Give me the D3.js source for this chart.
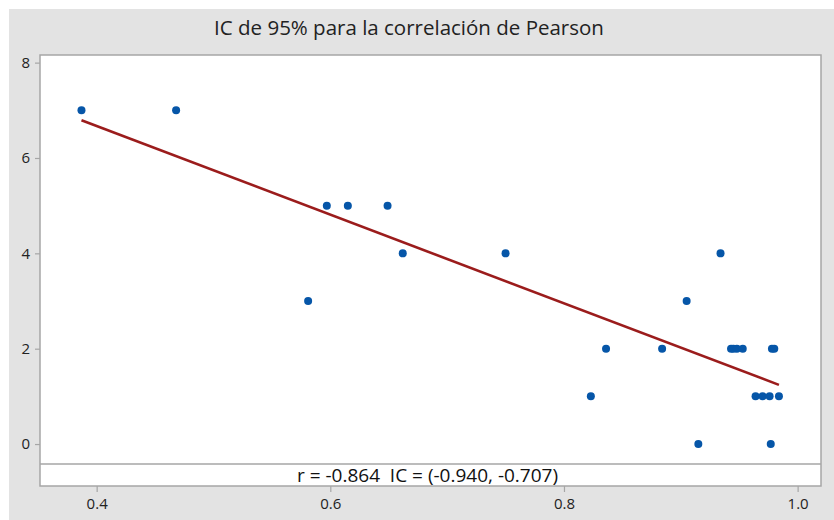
<!DOCTYPE html>
<html><head><meta charset="utf-8">
<script src="https://cdn.jsdelivr.net/npm/d3@7"></script>
<style>html,body{margin:0;padding:0;background:#fff;}svg{display:block;}</style>
</head><body>
<script>
const titleText = "IC de 95% para la correlación de Pearson";
const annotation = "r = -0.864  IC = (-0.940, -0.707)";
const xValues = [0.387,0.468,0.581,0.597,0.615,0.649,0.662,0.750,0.823,0.836,0.884,0.905,0.915,0.934,0.943,0.945,0.948,0.953,0.964,0.970,0.976,0.977,0.978,0.980,0.984];
const yValues = [7,7,3,5,5,5,4,4,1,2,2,3,0,4,2,2,2,2,1,1,1,0,2,2,1];
const xTicks = [0.4,0.6,0.8,1.0];
const yTicks = [0,2,4,6,8];

const W=834,H=520;
const svg=d3.select("body").append("svg").attr("width",W).attr("height",H);
svg.append("rect").attr("x",9).attr("y",9).attr("width",W-9).attr("height",H-9).attr("fill","#e3e3e3");

const L=40,R=821,T=55,B=486,bandTop=464;
const x=d3.scaleLinear().domain([0.3515,1.02]).range([L,R]);
const y=d3.scaleLinear().domain([-0.88,8.16]).range([B,T]);

svg.append("rect").attr("x",L).attr("y",T).attr("width",R-L).attr("height",B-T).attr("fill","#fff");

// regression line (least squares from the data)
const n=xValues.length, mx=d3.mean(xValues), my=d3.mean(yValues);
let sxy=0,sxx=0; for(let i=0;i<n;i++){sxy+=(xValues[i]-mx)*(yValues[i]-my);sxx+=(xValues[i]-mx)**2;}
const b=sxy/sxx, a=my-b*mx;
const x0=d3.min(xValues), x1=d3.max(xValues);
svg.append("line").attr("x1",x(x0)).attr("y1",y(a+b*x0)).attr("x2",x(x1)).attr("y2",y(a+b*x1))
  .attr("stroke","#9b1c1c").attr("stroke-width",2.6);

svg.selectAll("circle.pt").data(xValues.map((v,i)=>[v,yValues[i]])).enter().append("circle")
  .attr("cx",d=>x(d[0])).attr("cy",d=>y(d[1])).attr("r",4).attr("fill","#0656a8");

// annotation band
svg.append("line").attr("x1",L).attr("x2",R).attr("y1",bandTop).attr("y2",bandTop).attr("stroke","#a6a6a6").attr("stroke-width",1.5);
svg.append("text").attr("x",(L+R)/2-3).attr("y",482).attr("text-anchor","middle")
  .style("white-space","pre").attr("xml:space","preserve")
  .attr("font-family","Open Sans, sans-serif").attr("font-size",19).attr("fill","#111").text(annotation);

// frame
svg.append("rect").attr("x",L).attr("y",T).attr("width",R-L).attr("height",B-T).attr("fill","none").attr("stroke","#a6a6a6").attr("stroke-width",1.5);

// axes
const yAxis=d3.axisLeft(y).tickValues(yTicks).tickSize(5).tickPadding(5).tickFormat(d3.format("d"));
const gy=svg.append("g").attr("transform",`translate(${L},0)`).call(yAxis);
const xAxis=d3.axisBottom(x).tickValues(xTicks).tickSize(6).tickPadding(6).tickFormat(d3.format(".1f"));
const gx=svg.append("g").attr("transform",`translate(0,${B})`).call(xAxis);
[gx,gy].forEach(g=>{
  g.select(".domain").remove();
  g.selectAll(".tick line").attr("stroke","#a6a6a6").attr("stroke-width",1.2);
  g.selectAll(".tick text").attr("font-family","Open Sans, sans-serif").attr("font-size",15).attr("fill","#222");
});

svg.append("text").attr("x",409).attr("y",35).attr("text-anchor","middle")
  .attr("font-family","Open Sans, sans-serif").attr("font-size",20.5).attr("fill","#222").text(titleText);
</script>
</body></html>
